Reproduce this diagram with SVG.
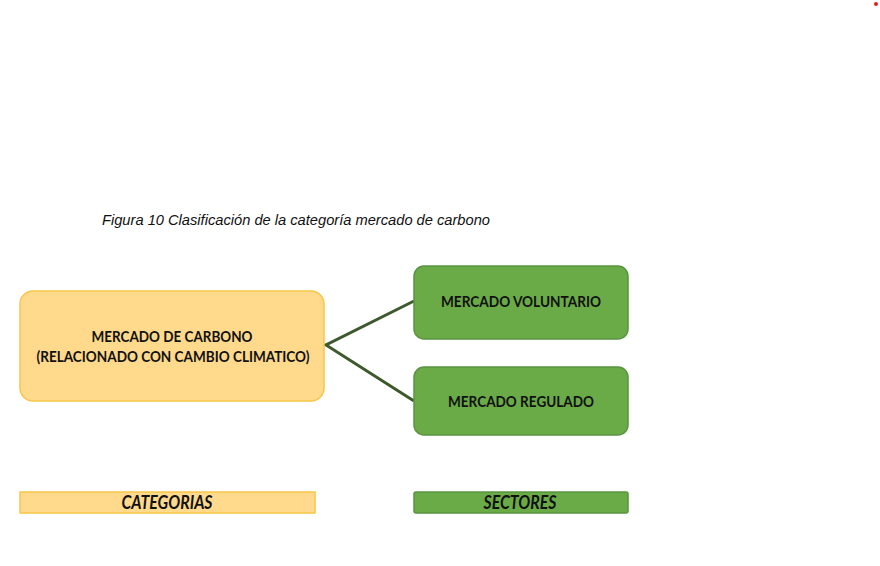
<svg xmlns="http://www.w3.org/2000/svg" width="880" height="566" viewBox="0 0 880 566">
<style>
.y{fill:#FFD98C;stroke:#F8C648;stroke-width:1.5}
.g{fill:#6AAB47;stroke:#5A9440;stroke-width:1.5}
.t{font-family:Lato,"Open Sans",sans-serif;font-weight:bold;font-size:16px;fill:#111;text-anchor:middle}
.l{font-family:Lato,"Open Sans",sans-serif;font-weight:bold;font-style:italic;font-size:18px;fill:#111;text-anchor:middle}
.c{font-family:"Liberation Sans",Arial,sans-serif;font-style:italic;font-size:14px;fill:#111}
.e{stroke:#3E5A2C;stroke-width:3;fill:none}
</style>
<rect width="880" height="566" fill="#fff"/>
<circle cx="876" cy="4" r="2" fill="#E02020"/>
<text class="c" x="102" y="225" textLength="388" lengthAdjust="spacingAndGlyphs">Figura 10 Clasificación de la categoría mercado de carbono</text>
<g id="connectors">
<polyline class="e" points="414,301 326,345 414,401"/>
</g>
<g id="mercado-carbono">
<rect class="y" x="20" y="291" width="304" height="110" rx="13"/>
<text class="t" x="172" y="342" textLength="161" lengthAdjust="spacingAndGlyphs">MERCADO DE CARBONO</text>
<text class="t" x="173" y="362" textLength="273" lengthAdjust="spacingAndGlyphs">(RELACIONADO CON CAMBIO CLIMATICO)</text>
</g>
<g id="mercado-voluntario">
<rect class="g" x="414" y="266" width="214" height="73" rx="10"/>
<text class="t" x="521" y="307" textLength="160" lengthAdjust="spacingAndGlyphs">MERCADO VOLUNTARIO</text>
</g>
<g id="mercado-regulado">
<rect class="g" x="414" y="367" width="214" height="68" rx="10"/>
<text class="t" x="521" y="407" textLength="146" lengthAdjust="spacingAndGlyphs">MERCADO REGULADO</text>
</g>
<g id="categorias">
<rect class="y" x="20" y="492" width="295" height="21"/>
<text class="l" x="167" y="509" textLength="91" lengthAdjust="spacingAndGlyphs">CATEGORIAS</text>
</g>
<g id="sectores">
<rect class="g" x="414" y="492" width="214" height="21" rx="2"/>
<text class="l" x="520" y="509" textLength="73" lengthAdjust="spacingAndGlyphs">SECTORES</text>
</g>
</svg>
